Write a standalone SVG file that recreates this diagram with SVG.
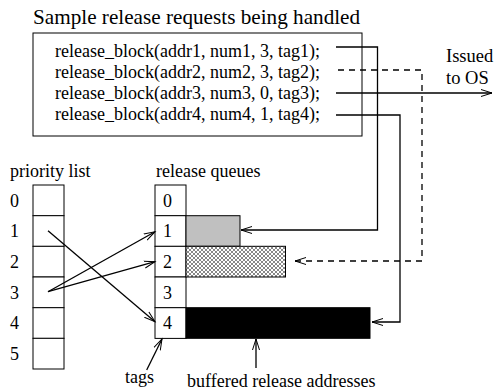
<svg xmlns="http://www.w3.org/2000/svg" width="495" height="392" viewBox="0 0 495 392">
<style>
text{font-family:"Liberation Serif","Times New Roman",serif;fill:#000}
.t{font-size:21.2px}
.c{font-size:18px}
.l{font-size:18px}
.i{font-size:18.5px}
.box{fill:#fff;stroke:#000;stroke-width:1}
.cell{fill:#fff;stroke:#000;stroke-width:1}
.ln{fill:none;stroke:#000;stroke-width:1.3}
.dash{stroke-dasharray:6,5}
</style>
<defs>
<marker id="ah" markerWidth="13" markerHeight="9" refX="11" refY="4.5" orient="auto" markerUnits="userSpaceOnUse">
<path d="M0,1 L11,4.5 L0,8" fill="none" stroke="#000" stroke-width="1"/>
</marker>
<pattern id="hatch" width="4" height="4" patternUnits="userSpaceOnUse">
<rect width="4" height="4" fill="#fff"/>
<path d="M0,0 L4,4 M4,0 L0,4" stroke="#555" stroke-width="0.7"/>
</pattern>
</defs>
<text class="t" x="33" y="24">Sample release requests being handled</text>
<g id="requests">
<rect class="box" x="33" y="33" width="329" height="103"/>
<text class="c" x="55" y="57">release_block(addr1, num1, 3, tag1);</text>
<text class="c" x="55" y="78">release_block(addr2, num2, 3, tag2);</text>
<text class="c" x="55" y="99">release_block(addr3, num3, 0, tag3);</text>
<text class="c" x="55" y="120">release_block(addr4, num4, 1, tag4);</text>
</g>
<g id="issued">
<text class="i" x="446" y="62">Issued</text>
<text class="i" x="446" y="84">to OS</text>
</g>
<g id="priority-list">
<text class="l" x="10" y="177">priority list</text>
<rect class="cell" x="33" y="185" width="31" height="30.7"/>
<rect class="cell" x="33" y="215.7" width="31" height="30.7"/>
<rect class="cell" x="33" y="246.3" width="31" height="30.7"/>
<rect class="cell" x="33" y="277" width="31" height="30.7"/>
<rect class="cell" x="33" y="307.7" width="31" height="30.7"/>
<rect class="cell" x="33" y="338.3" width="31" height="30.7"/>
<text class="l" x="10" y="207">0</text>
<text class="l" x="10" y="237">1</text>
<text class="l" x="10" y="268">2</text>
<text class="l" x="10" y="299">3</text>
<text class="l" x="10" y="329">4</text>
<text class="l" x="10" y="360">5</text>
</g>
<g id="release-queues">
<text class="l" x="156" y="177">release queues</text>
<rect class="cell" x="155" y="185" width="31" height="30.7"/>
<rect class="cell" x="155" y="215.7" width="31" height="30.7"/>
<rect class="cell" x="155" y="246.3" width="31" height="30.7"/>
<rect class="cell" x="155" y="277" width="31" height="30.7"/>
<rect class="cell" x="155" y="307.7" width="31" height="30.7"/>
<text class="l" x="163" y="207">0</text>
<text class="l" x="163" y="237">1</text>
<text class="l" x="163" y="268">2</text>
<text class="l" x="163" y="299">3</text>
<text class="l" x="163" y="329">4</text>
</g>
<g id="buffers">
<rect x="186" y="215.7" width="54" height="30.6" fill="#c0c0c0" stroke="#000" stroke-width="1"/>
<rect x="186" y="246.3" width="99.5" height="30.7" fill="url(#hatch)" stroke="#000" stroke-width="1"/>
<rect x="186" y="307.7" width="184" height="30.6" fill="#000" stroke="#000" stroke-width="1"/>
</g>
<g id="labels">
<text class="l" x="125" y="383">tags</text>
<text class="l" x="187" y="387">buffered release addresses</text>
</g>
<g id="connectors">
<polyline class="ln" points="336,47 377.5,47 377.5,230 241,230" marker-end="url(#ah)"/>
<polyline class="ln dash" points="338,70 422,70 422,261 295,261" marker-end="url(#ah)"/>
<polyline class="ln" points="336,93 492,93" marker-end="url(#ah)"/>
<polyline class="ln" points="336,115 400,115 400,322 372,322" marker-end="url(#ah)"/>
<line class="ln" x1="48" y1="230.7" x2="155" y2="321.7" marker-end="url(#ah)"/>
<line class="ln" x1="48" y1="291.7" x2="155" y2="231.7" marker-end="url(#ah)"/>
<line class="ln" x1="48" y1="291.7" x2="155" y2="261.7" marker-end="url(#ah)"/>
<line class="ln" x1="146.7" y1="370" x2="162" y2="339" marker-end="url(#ah)"/>
<line class="ln" x1="256" y1="368" x2="256" y2="339" marker-end="url(#ah)"/>
</g>
</svg>
